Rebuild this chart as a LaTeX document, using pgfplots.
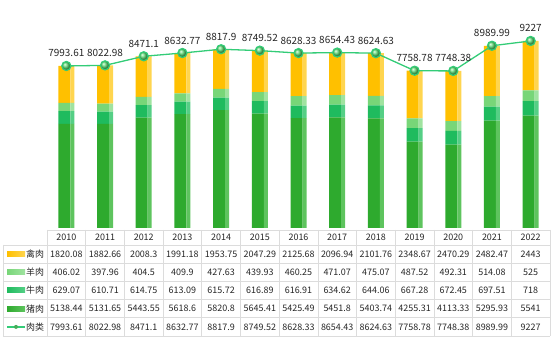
\documentclass[border=0pt]{standalone}
\usepackage{pgfplots}
\pgfplotsset{compat=1.18}
\usepackage{pgfplotstable}
\usepackage{fontspec}
\setmainfont{Noto Sans CJK SC}
\definecolor{porkc}{HTML}{2EAA2E}
\definecolor{porks}{HTML}{5EC45E}
\definecolor{porkt}{HTML}{1F7D1F}
\definecolor{beefc}{HTML}{1FBB5E}
\definecolor{beefs}{HTML}{55CF85}
\definecolor{lambc}{HTML}{78D678}
\definecolor{lambs}{HTML}{A0E3A0}
\definecolor{poulc}{HTML}{FFC000}
\definecolor{pouls}{HTML}{FFD54F}
\definecolor{linec}{HTML}{33CC77}
\definecolor{markc}{HTML}{5AD870}
\definecolor{gridc}{HTML}{DCDCDC}
\definecolor{txt}{HTML}{262626}
\newcommand\tf{\fontsize{9}{11}\selectfont}
\pgfplotstableread{
x year pork beef lamb poultry total
0 2010 5138.44 629.07 406.02 1820.08 7993.61
1 2011 5131.65 610.71 397.96 1882.66 8022.98
2 2012 5443.55 614.75 404.5 2008.3 8471.1
3 2013 5618.6 613.09 409.9 1991.18 8632.77
4 2014 5820.8 615.72 427.63 1953.75 8817.9
5 2015 5645.41 616.89 439.93 2047.29 8749.52
6 2016 5425.49 616.91 460.25 2125.68 8628.33
7 2017 5451.8 634.62 471.07 2096.94 8654.43
8 2018 5403.74 644.06 475.07 2101.76 8624.63
9 2019 4255.31 667.28 487.52 2348.67 7758.78
10 2020 4113.33 672.45 492.31 2470.29 7748.38
11 2021 5295.93 697.51 514.08 2482.47 8989.99
12 2022 5541 718 525 2443 9227
}\data
\pgfplotsset{base/.style={at={(47bp,123bp)}, anchor=south west, width=503bp, height=228bp,
  scale only axis, xmin=-0.5, xmax=12.5, ymin=0, ymax=11248, hide axis, clip=false}}
\begin{document}
\begin{tikzpicture}
\useasboundingbox (0,0) rectangle (556bp,351bp);
% front faces
\begin{axis}[base, ybar stacked, bar width=12bp, bar shift=-2bp]
\addplot[fill=porkc, draw=none] table[x=x, y=pork] {\data};
\addplot[fill=beefc, draw=none] table[x=x, y=beef] {\data};
\addplot[fill=lambc, draw=none] table[x=x, y=lamb] {\data};
\addplot[fill=poulc, draw=none] table[x=x, y=poultry] {\data};
\end{axis}
% side faces
\begin{axis}[base, ybar stacked, bar width=4bp, bar shift=6bp]
\addplot[fill=porks, draw=none] table[x=x, y=pork] {\data};
\addplot[fill=beefs, draw=none] table[x=x, y=beef] {\data};
\addplot[fill=lambs, draw=none] table[x=x, y=lamb] {\data};
\addplot[fill=pouls, draw=none] table[x=x, y=poultry] {\data};
\end{axis}
% total line
\begin{axis}[base]
\addplot[color=linec, line width=1.3bp, mark=ball, mark size=4.5bp,
  mark options={ball color=markc},
  nodes near coords, point meta=explicit symbolic,
  every node near coord/.style={anchor=base, yshift=9bp, font=\fontsize{10}{12}\selectfont, text=txt}]
  table[x=x, y=total, meta=total] {\data};
\end{axis}
% table grid
\begin{scope}[gridc, line width=0.6bp]
\draw (47bp,121bp) -- (550bp,121bp);
\foreach \yy in {106,87.8,69.6,51.4,33.2,15} \draw (3bp,\yy bp) -- (550bp,\yy bp);
\foreach \k in {0,...,13} \draw ({(47+38.6923*\k)*1bp},121bp) -- ({(47+38.6923*\k)*1bp},15bp);
\draw (3bp,106bp) -- (3bp,15bp);
\end{scope}
% legend column
\shade[left color=poulc, right color=pouls] (7bp,94.4bp) rectangle (25bp,99.4bp);
\shade[left color=lambc, right color=lambs] (7bp,76.2bp) rectangle (25bp,81.2bp);
\shade[left color=beefc, right color=beefs] (7bp,58bp) rectangle (25bp,63bp);
\shade[left color=porkc, right color=porks] (7bp,39.8bp) rectangle (25bp,44.8bp);
\draw[linec, line width=1.3bp] (7bp,24.1bp) -- (25bp,24.1bp);
\fill[markc!80!black] (16bp,24.1bp) circle (2bp);
\node[anchor=west, inner sep=0pt, text=txt, font=\tf] at (26bp,96.9bp) {禽肉};
\node[anchor=west, inner sep=0pt, text=txt, font=\tf] at (26bp,78.7bp) {羊肉};
\node[anchor=west, inner sep=0pt, text=txt, font=\tf] at (26bp,60.5bp) {牛肉};
\node[anchor=west, inner sep=0pt, text=txt, font=\tf] at (26bp,42.3bp) {猪肉};
\node[anchor=west, inner sep=0pt, text=txt, font=\tf] at (26bp,24.1bp) {肉类};
% table values
\begin{axis}[at={(47bp,15bp)}, anchor=south west, width=503bp, height=91bp, scale only axis,
  xmin=-0.5, xmax=12.5, ymin=0, ymax=5, hide axis, clip=false,
  nodes near coords, point meta=explicit symbolic,
  every node near coord/.style={anchor=center, inner sep=0pt, font=\tf, text=txt}]
\addplot[draw=none, mark=none] table[x=x, y expr=5.412, meta=year] {\data};
\addplot[draw=none, mark=none] table[x=x, y expr=4.5, meta=poultry] {\data};
\addplot[draw=none, mark=none] table[x=x, y expr=3.5, meta=lamb] {\data};
\addplot[draw=none, mark=none] table[x=x, y expr=2.5, meta=beef] {\data};
\addplot[draw=none, mark=none] table[x=x, y expr=1.5, meta=pork] {\data};
\addplot[draw=none, mark=none] table[x=x, y expr=0.5, meta=total] {\data};
\end{axis}
\end{tikzpicture}
\end{document}
